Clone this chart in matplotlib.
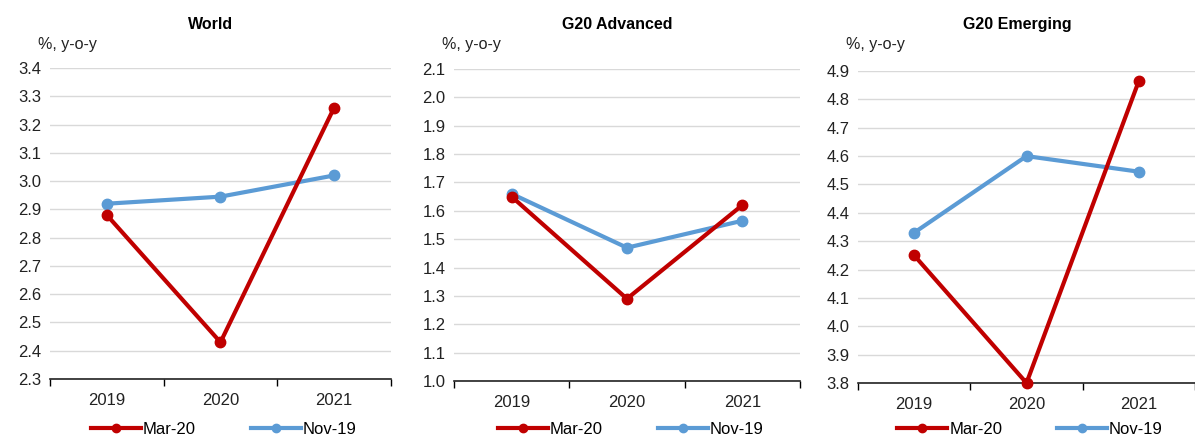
import matplotlib.pyplot as plt

years = ["2019", "2020", "2021"]

world_mar20 = [2.88, 2.43, 3.26]
world_nov19 = [2.92, 2.945, 3.02]
adv_mar20 = [1.65, 1.29, 1.62]
adv_nov19 = [1.66, 1.47, 1.565]
emg_mar20 = [4.25, 3.80, 4.865]
emg_nov19 = [4.33, 4.60, 4.545]

titles = ["World", "G20 Advanced", "G20 Emerging"]
ylims = [(2.3, 3.4), (1.0, 2.1), (3.8, 4.9)]

RED = "#C00000"
BLUE = "#5B9BD5"

plt.rcParams["font.family"] = ["Liberation Sans Narrow", "Liberation Sans", "DejaVu Sans"]

fig = plt.figure(figsize=(11.95, 4.37), dpi=100)

# panel boxes in figure fractions
boxes = [
    [0.0418, 0.1327, 0.2854, 0.7117],
    [0.3799, 0.1281, 0.2895, 0.7140],
    [0.7180, 0.1236, 0.2820, 0.7139],
]

series = [(world_mar20, world_nov19), (adv_mar20, adv_nov19), (emg_mar20, emg_nov19)]

for box, title, ylim, (mar, nov) in zip(boxes, titles, ylims, series):
    ax = fig.add_axes(box)
    x = range(len(years))
    ax.plot(x, mar, color=RED, lw=3, marker="o", ms=7.5, label="Mar-20", clip_on=False, zorder=3)
    ax.plot(x, nov, color=BLUE, lw=3, marker="o", ms=7.5, label="Nov-19", clip_on=False, zorder=2)

    ax.set_xlim(-0.5, 2.5)
    ax.set_ylim(*ylim)
    lo, hi = ylim
    ticks = [round(lo + 0.1 * i, 1) for i in range(12)]
    ax.set_yticks(ticks)
    ax.set_yticklabels([f"{t:.1f}" for t in ticks], fontsize=12, color="#222222")
    ax.tick_params(axis="y", length=0, pad=6)

    ax.set_xticks(list(x))
    ax.set_xticklabels(years, fontsize=12, color="#222222")
    ax.set_xticks([-0.5, 0.5, 1.5, 2.5], minor=True)
    ax.tick_params(axis="x", which="major", length=0, pad=10)
    ax.tick_params(axis="x", which="minor", length=5, direction="out", width=1)

    ax.grid(axis="y", color="#D9D9D9", lw=1)
    ax.set_axisbelow(True)
    for s in ["left", "right", "top"]:
        ax.spines[s].set_visible(False)
    ax.spines["bottom"].set_color("#222222")
    ax.spines["bottom"].set_linewidth(1.2)
    ax.spines["bottom"].set_zorder(1)

    cx = box[0] + box[2] / 2
    fig.text(cx - 0.008, 0.943, title, ha="center", va="center", fontsize=11.5,
             fontweight="bold", family=["Liberation Sans", "DejaVu Sans"])
    fig.text(box[0] - 0.01, 0.898, "%, y-o-y", ha="left", va="center", fontsize=11.5, color="#222222")

    ax.legend(loc="center", bbox_to_anchor=(cx + 0.003, 0.017), bbox_transform=fig.transFigure,
              ncol=2, frameon=False, fontsize=12, handlelength=3.0, columnspacing=3.3,
              handletextpad=0.1, markerscale=0.8)

fig.savefig("out.png", dpi=100)
